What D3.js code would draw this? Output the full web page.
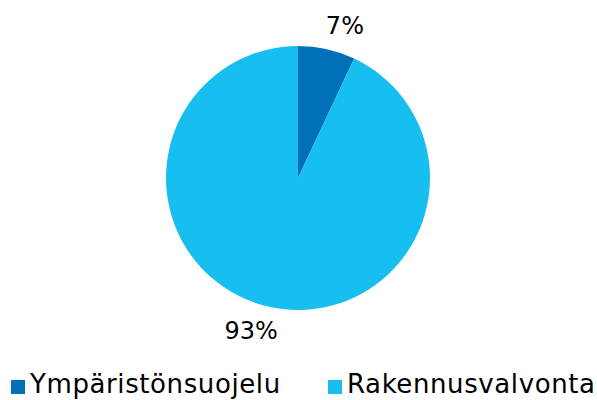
<!DOCTYPE html>
<html>
<head>
<meta charset="utf-8">
<script src="https://cdn.jsdelivr.net/npm/d3@7"></script>
<style>
  body { margin: 0; background: #fff; }
  text { font-family: "DejaVu Sans", sans-serif; fill: #000; }
</style>
</head>
<body>
<div id="chart"></div>
<script>
// data
var categories = ["Ympäristönsuojelu", "Rakennusvalvonta"];
var values = [7, 93];
var labels = ["7%", "93%"];
var colors = ["#0070b8", "#16bff0"];

var width = 597, height = 400;
var cx = 298, cy = 178, radius = 132;

var svg = d3.select("#chart")
    .append("svg")
    .attr("width", width)
    .attr("height", height);

var color = d3.scaleOrdinal().domain(categories).range(colors);

var pie = d3.pie().sort(null).value(function(d) { return d.value; });
var arc = d3.arc().innerRadius(0).outerRadius(radius);
// unit arc for label direction, stretched a bit horizontally
var unitArc = d3.arc().innerRadius(1).outerRadius(1);
var labelRx = 215, labelRy = 156;

var data = categories.map(function(c, i) { return {name: c, value: values[i], label: labels[i]}; });

var g = svg.append("g").attr("transform", "translate(" + cx + "," + cy + ")");

var slices = g.selectAll("g.slice")
    .data(pie(data))
    .enter()
    .append("g")
    .attr("class", "slice");

slices.append("path")
    .attr("d", arc)
    .attr("fill", function(d) { return color(d.data.name); });

slices.append("text")
    .attr("transform", function(d) {
      var c = unitArc.centroid(d);
      return "translate(" + (c[0] * labelRx) + "," + (c[1] * labelRy) + ")";
    })
    .attr("text-anchor", "middle")
    .attr("dy", "0.36em")
    .style("font-size", "24px")
    .text(function(d) { return d.data.label; });

// legend
var legendX = [11, 328];
var legend = svg.selectAll("g.legend")
    .data(categories)
    .enter()
    .append("g")
    .attr("class", "legend")
    .attr("transform", function(d, i) { return "translate(" + legendX[i] + ",380)"; });

legend.append("rect")
    .attr("width", 14)
    .attr("height", 14)
    .attr("fill", function(d) { return color(d); });

legend.append("text")
    .attr("x", 19)
    .attr("y", 13)
    .style("font-size", "26px")
    .style("letter-spacing", "0.6px")
    .text(function(d) { return d; });
</script>
</body>
</html>
